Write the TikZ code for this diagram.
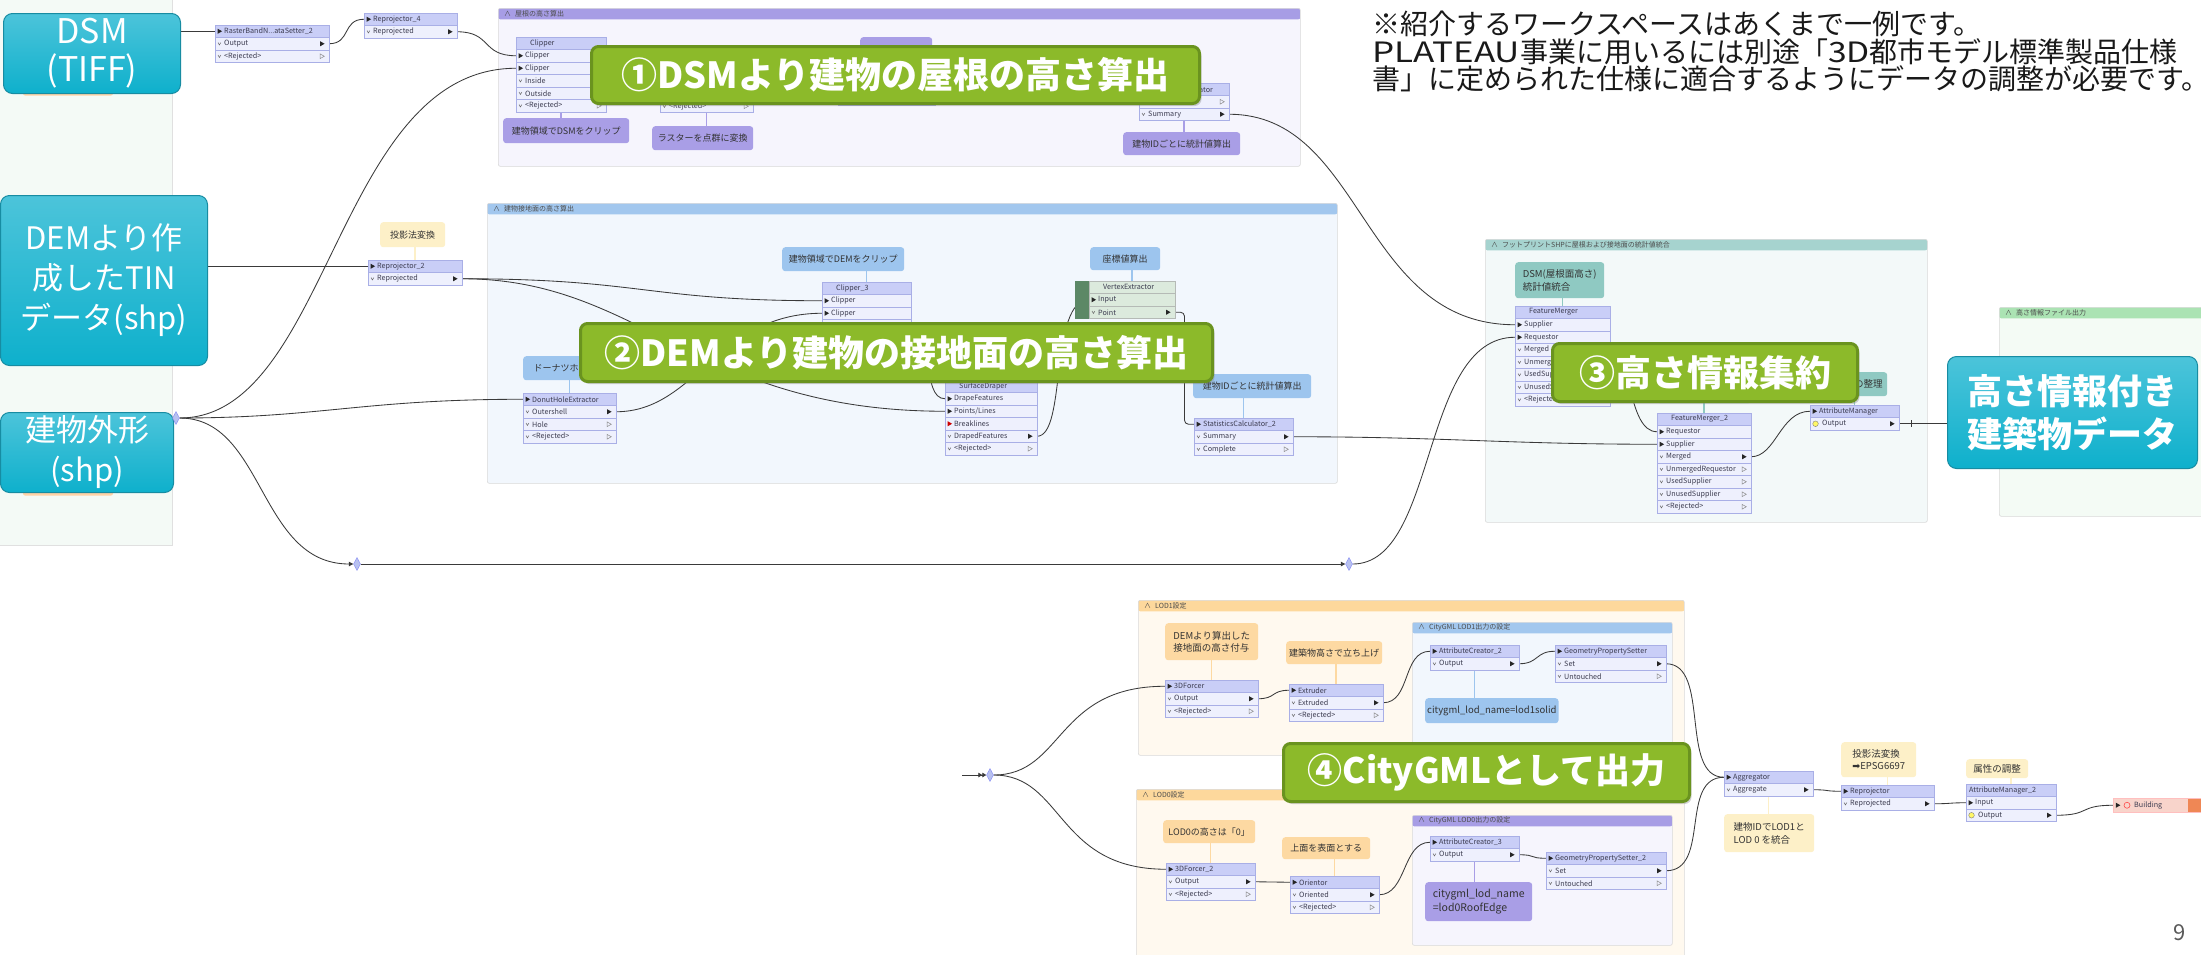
\documentclass[tikz,border=0pt]{standalone}
\usepackage{fontspec}
\setmainfont{Noto Sans CJK JP}
\newfontfamily\dejavu{DejaVu Sans}
\usetikzlibrary{calc,shapes.geometric,arrows.meta,shadows}

\definecolor{connc}{HTML}{3A3A3A}
\definecolor{rowfill}{HTML}{EEF0FD}
\definecolor{titlefill}{HTML}{C9CEF7}
\definecolor{rowline}{HTML}{A9AFE6}
\definecolor{fmetext}{HTML}{3C3C50}
\definecolor{tealtop}{HTML}{4CC4DA}
\definecolor{tealbot}{HTML}{0EB0CC}
\definecolor{tealedge}{HTML}{178CA2}
\definecolor{lblfill}{HTML}{8CBA2A}
\definecolor{lbledge}{HTML}{6A931F}
\definecolor{panelfill}{HTML}{F4FAF6}
\definecolor{purplehdr}{HTML}{A79DE5}
\definecolor{purplebody}{HTML}{F6F5FD}
\definecolor{bluehdr}{HTML}{A2C7EE}
\definecolor{bluebody}{HTML}{F2F7FD}
\definecolor{tealhdr}{HTML}{A6D3CF}
\definecolor{tealbody}{HTML}{F3F9F9}
\definecolor{greenhdr}{HTML}{ABE3B3}
\definecolor{greenbody}{HTML}{F4FBF5}
\definecolor{orangehdr}{HTML}{FDD89C}
\definecolor{orangebody}{HTML}{FFF9EF}
\definecolor{annpurple}{HTML}{A99EE6}
\definecolor{annblue}{HTML}{9DC5EE}
\definecolor{annteal}{HTML}{8FC9C2}
\definecolor{annyellow}{HTML}{FDF0C8}
\definecolor{annorange}{HTML}{FDD9A2}
\definecolor{vegreen}{HTML}{DCEADD}
\definecolor{vestrip}{HTML}{5C8866}
\definecolor{writerfill}{HTML}{F8D4CB}
\definecolor{writerend}{HTML}{EF8755}
\definecolor{diamondfill}{HTML}{B8C1F0}

% port glyphs drawn inside transformer rows
\newcommand\fmePin[1][black!85]{\fill[#1] ([xshift=2.5pt]path picture bounding box.west) ++(0,-2.6) -- ++(4.6,2.6) -- ++(-4.6,2.6) -- cycle;}
\newcommand\fmePout{\fill[black!85] ([xshift=-9pt]path picture bounding box.east) ++(0,-2.6) -- ++(4.6,2.6) -- ++(-4.6,2.6) -- cycle;}
\newcommand\fmePoutx{\draw[black!45, line width=0.5pt] ([xshift=-9pt]path picture bounding box.east) ++(0,-2.4) -- ++(4.3,2.4) -- ++(-4.3,2.4) -- cycle;}
\newcommand\fmeChev{\draw[black!60, line width=0.5pt] ([xshift=3pt]path picture bounding box.west) ++(0,-1.2) -- ++(1.4,2.4) -- ++(1.4,-2.4);}
\newcommand\fmeIcon{\draw[black!50, fill=yellow!60, line width=0.4pt] ([xshift=5.5pt]path picture bounding box.west) circle (2.8pt);}

\tikzset{
  fmerow/.style={draw=rowline, line width=0.5pt, fill=rowfill, minimum height=12.5pt, inner sep=0pt, outer sep=0pt, anchor=north west},
  fmetxt/.style={font=\fontsize{7.2}{8}\selectfont, text=fmetext, inner sep=0pt, anchor=west},
  kt/.style={fill=titlefill},
  kti/.style={fill=titlefill, path picture={\fmePin}},
  ki/.style={path picture={\fmePin}},
  kr/.style={path picture={\fmePin[red!80!black]}},
  ko/.style={path picture={\fmeChev\fmePout}},
  kx/.style={path picture={\fmeChev\fmePoutx}},
  koc/.style={path picture={\fmeIcon\fmePout}},
  grpbox/.style={draw=black!15, line width=0.6pt, rounded corners=2pt, anchor=north west, inner sep=0pt},
  grptxt/.style={font=\fontsize{7}{8}\selectfont, text=black!70, anchor=west, inner sep=0pt},
  annbox/.style={rounded corners=3pt, anchor=north west, inner sep=2pt, font=\fontsize{9}{12}\selectfont, text=black!80, align=center},
  aline/.style={draw=#1, line width=1.2pt},
  conn/.style={draw=connc, line width=0.85pt},
  jtip/.style={-{Triangle[length=4.5pt,width=4.5pt]}},
  jdia/.style={diamond, fill=diamondfill, draw=diamondfill!70!blue, line width=0.4pt, minimum width=7pt, minimum height=13pt, inner sep=0pt},
  bigbox/.style={rounded corners=9pt, top color=tealtop, bottom color=tealbot, draw=tealedge, line width=1pt, text=white, align=center, anchor=north west, inner sep=0pt},
  lbl/.style={fill=lblfill, draw=lbledge, line width=3pt, rounded corners=7pt, text=white, font=\fontsize{36}{40}\selectfont\bfseries, anchor=north west, inner sep=0pt, drop shadow={shadow xshift=2pt, shadow yshift=-2.5pt, opacity=0.35}},
  note/.style={anchor=west, font=\fontsize{28}{30}\selectfont, text=black!90, inner sep=0pt},
  writer/.style={fill=writerfill, draw=red!25, line width=0.5pt, anchor=north west, inner sep=0pt, path picture={\fill[writerend] ([xshift=75pt]path picture bounding box.north west) rectangle (path picture bounding box.south east); \fmePin}},
}

% transformer: [extra row options]{name}{x}{y top}{width}{kind/text list}
\newcommand\fme[6][]{%
  \foreach \rk/\rt [count=\ri] in {#6}{%
    \node[fmerow, minimum width=#5pt, \rk, #1] (#2-\ri) at (#3, {#4+(\ri-1)*12.5}) {};
    \node[fmetxt] at ([xshift=9pt]#2-\ri.west) {\rt};
  }%
}
% bookmark: {name}{x1}{y1}{x2}{y2}{colour prefix}{title}
\newcommand\grp[7]{%
  \node[grpbox, fill=#6body, minimum width={(#4-#2)*1pt}, minimum height={(#5-#3)*1pt},
    path picture={\fill[#6hdr] (path picture bounding box.north west) rectangle ([yshift=-11pt]path picture bounding box.north east);}] (#1) at (#2,#3) {};
  \node[grptxt] at (#2+6, #3+5.5) {∧\hspace{4pt}#7};
}
% annotation: [options]{name}{x}{y}{w}{h}{colour}{text}
\newcommand\ann[8][]{%
  \node[annbox, fill=#7, minimum width=#5pt, minimum height=#6pt, #1] (#2) at (#3,#4) {#8};
}

\pgfdeclarelayer{back}
\pgfdeclarelayer{mid}
\pgfsetlayers{back,mid,main}

\begin{document}
\begin{tikzpicture}[x=1pt, y=-1pt]
\useasboundingbox (0,0) rectangle (2201,954);
\clip (0,0) rectangle (2201,954);

\begin{pgfonlayer}{back}
  \fill[white] (0,0) rectangle (2201,954);
  \fill[panelfill] (0,0) rectangle (172,545);
  \draw[black!12, line width=0.8pt] (0,545) -| (172,0);
  \grp{g1}{498}{8}{1300}{166}{purple}{屋根の高さ算出}
  \grp{g2}{487}{203}{1337}{483}{blue}{建物接地面の高さ算出}
  \grp{g3}{1485}{239}{1927}{522}{teal}{フットプリントSHPに屋根および接地面の統計値統合}
  \grp{g4}{1999}{307}{2230}{516}{green}{高さ情報ファイル出力}
  \grp{lod1}{1138}{600}{1684}{755}{orange}{LOD1設定}
  \grp{cg1}{1412}{622}{1672}{748}{blue}{CityGML LOD1出力の設定}
  \grp{lod0}{1136}{789}{1684}{975}{orange}{LOD0設定}
  \grp{cg0}{1412}{815}{1672}{945}{purple}{CityGML LOD0出力の設定}
  \fill[orange!35, rounded corners=2pt] (23,86) rectangle (113,95.5);
  \fill[orange!35, rounded corners=2pt] (23,486) rectangle (113,495.5);
\end{pgfonlayer}

% source datasets
\node[bigbox, minimum width=177pt, minimum height=80pt, font=\fontsize{34}{38}\selectfont] (dsm) at (3,13) {DSM\\(TIFF)};
\node[bigbox, minimum width=207pt, minimum height=170pt, font=\fontsize{31}{40}\selectfont] (dem) at (0,195) {DEMより作\\成したTIN\\データ(shp)};
\node[bigbox, minimum width=173pt, minimum height=80pt, font=\fontsize{31}{40}\selectfont] (bldg) at (0,412) {建物外形\\(shp)};

% junctions
\node[jdia] (jb) at (176,418) {};
\node[jdia] (j1) at (357,564) {};
\node[jdia] (j2) at (1349,564) {};
\node[jdia] (j0) at (990,775) {};
\coordinate (j0in) at (962,775);

% roof height chain
\fme{rb}{215}{25}{114}{kti/RasterBandN.{}.{}.ataSetter\_2, ko/Output, kx/<Rejected>}
\fme{rp4}{364}{13}{93}{kti/Reprojector\_4, ko/Reprojected}
\fme{clip}{516}{37}{90}{kt/\hspace*{5pt}Clipper, ki/Clipper, ki/Clipper, ko/Inside, ko/Outside, kx/<Rejected>}
\fme{nb}{660}{50}{93}{kt/{}, ki/{}, ko/{}, ko/{}, kx/<Rejected>}
\fme{nc}{838}{68}{97}{kt/{}, ko/{}, kx/{}}
\fme{stc}{1139}{83}{90}{kti/StatisticsCalculator, kx/Complete, ko/Summary}
\ann{a1}{503}{118}{126}{25}{annpurple}{建物領域でDSMをクリップ}
\ann{a2}{652}{126}{101}{24}{annpurple}{ラスターを点群に変換}
\ann{a3}{860}{37}{72}{26}{annpurple}{}
\ann{a4}{1123}{132}{117}{23}{annpurple}{建物IDごとに統計値算出}

% ground height chain
\fme{rp2}{368}{260}{94}{kti/Reprojector\_2, ko/Reprojected}
\fme{clip3}{822}{282}{89}{kt/\hspace*{5pt}Clipper\_3, ki/Clipper, ki/Clipper, ko/Inside, ko/Outside, kx/<Rejected>}
\fme{dhe}{523}{393}{93}{kti/DonutHoleExtractor, ko/Outershell, kx/Hole, kx/<Rejected>}
\fme{sd}{945}{380}{92}{kt/\hspace*{5pt}SurfaceDraper, ki/DrapeFeatures, ki/Points\slash Lines, kr/Breaklines, ko/DrapedFeatures, kx/<Rejected>}
\node[fill=vestrip, minimum width=14pt, minimum height=37.5pt, anchor=north west, inner sep=0pt] (vestr) at (1075,281) {};
\fme[fill=vegreen, draw=vegreen!60!black!60]{ve}{1089}{281}{86}{kt/\hspace*{5pt}VertexExtractor, ki/Input, ko/Point}
\fme{stc2}{1194}{418}{99}{kti/StatisticsCalculator\_2, ko/Summary, kx/Complete}
\ann{b0}{380}{222}{65}{25}{annyellow}{投影法変換}
\ann{b1}{782}{247}{122}{24}{annblue}{建物領域でDEMをクリップ}
\ann{b2}{523}{356}{102}{24}{annblue}{ドーナツホール抽出}
\ann{b3}{1090}{247}{70}{23}{annblue}{座標値算出}
\ann{b4}{1193}{374}{118}{24}{annblue}{建物IDごとに統計値算出}

% merging
\fme{fm}{1515}{306}{95}{kt/\hspace*{5pt}FeatureMerger, ki/Supplier, ki/Requestor, ko/Merged, kx/UnmergedRequestor, kx/UsedSupplier, kx/UnusedSupplier, kx/<Rejected>}
\fme{fm2}{1657}{413}{94}{kt/\hspace*{5pt}FeatureMerger\_2, ki/Requestor, ki/Supplier, ko/Merged, kx/UnmergedRequestor, kx/UsedSupplier, kx/UnusedSupplier, kx/<Rejected>}
\fme{am}{1810}{405}{89}{kti/AttributeManager, koc/\hspace*{3pt}Output}
\ann[align=left, font=\fontsize{9.5}{12.5}\selectfont]{c1}{1515}{262}{89}{36}{annteal}{DSM(屋根面高さ)\\統計値統合}
\ann{c2}{1657}{383}{94}{20}{annteal}{}
\ann[text width=98pt, align=right, font=\fontsize{9.5}{12}\selectfont]{c3}{1780}{372}{107}{24}{annteal}{属性の整理}
\node[bigbox, minimum width=250pt, minimum height=112pt, font=\fontsize{35}{43}\selectfont\bfseries] (hbox) at (1947,356) {高さ情報付き\\建築物データ};

% CityGML output
\fme{f3d}{1165}{680}{93}{kti/3DForcer, ko/Output, kx/<Rejected>}
\fme{ext}{1289}{684}{94}{kti/Extruder, ko/Extruded, kx/<Rejected>}
\fme{ac2}{1430}{645}{89}{kti/AttributeCreator\_2, ko/Output}
\fme{gps}{1555}{645}{111}{kti/GeometryPropertySetter, ko/Set, kx/Untouched}
\fme{f3db}{1166}{863}{89}{kti/3DForcer\_2, ko/Output, kx/<Rejected>}
\fme{ori}{1290}{876}{89}{kti/Orientor, ko/Oriented, kx/<Rejected>}
\fme{ac3}{1430}{836}{89}{kti/AttributeCreator\_3, ko/Output}
\fme{gpsb}{1546}{852}{120}{kti/GeometryPropertySetter\_2, ko/Set, kx/Untouched}
\fme{agg}{1724}{771}{89}{kti/Aggregator, ko/Aggregate}
\fme{rp}{1841}{785}{93}{kti/Reprojector, ko/Reprojected}
\fme{am2}{1966}{784}{90}{kt/\hspace*{-6pt}AttributeManager\_2, ki/Input, koc/\hspace*{3pt}Output}
\node[writer, minimum width=100pt, minimum height=14pt] (bld) at (2113,798) {};
\draw[red!70, line width=0.6pt] ([xshift=14pt]bld.west) circle (3pt);
\node[fmetxt] at ([xshift=21pt]bld.west) {Building};
\ann[align=left, font=\fontsize{9.5}{12.5}\selectfont]{d1}{1165}{623}{93}{37}{annorange}{DEMより算出した\\接地面の高さ付与}
\ann[font=\fontsize{9}{11}\selectfont]{d2}{1286}{641}{96}{23}{annorange}{建築物高さで立ち上げ}
\ann[font=\fontsize{9.5}{11}\selectfont]{d3}{1425}{698}{132}{25}{annblue}{citygml\_lod\_name=lod1solid}
\ann[font=\fontsize{9}{11}\selectfont]{e1}{1163}{820}{92}{23}{annorange}{LOD0の高さは「0」}
\ann[font=\fontsize{9}{11}\selectfont]{e2}{1282}{837}{88}{22}{annorange}{上面を表面とする}
\ann[align=left, font=\fontsize{10.5}{14}\selectfont]{e3}{1425}{882}{107}{39}{annpurple}{citygml\_lod\_name\\=lod0RoofEdge}
\ann[align=left, font=\fontsize{9.5}{12.5}\selectfont]{f1}{1724}{814}{90}{38}{annyellow}{建物IDでLOD1と\\LOD 0 を統合}
\ann[align=left, font=\fontsize{9.5}{12.5}\selectfont]{f2}{1841}{742}{75}{35}{annyellow}{投影法変換\\{\dejavu ➡}EPSG6697}
\ann[font=\fontsize{9.5}{11}\selectfont]{f3}{1966}{759}{62}{19}{annyellow}{属性の調整}

% connectors
\begin{pgfonlayer}{mid}
  \draw[aline=annpurple] (clip-6.south) -- (clip-6.south |- a1.north);
  \draw[aline=annpurple] (nb-5.south) -- (nb-5.south |- a2.north);
  \draw[aline=annpurple] (nc-1.north) -- (nc-1.north |- a3.south);
  \draw[aline=annpurple] (stc-3.south) -- (stc-3.south |- a4.north);
  \draw[aline=annyellow] (rp2-1.north) -- (rp2-1.north |- b0.south);
  \draw[aline=annblue] (clip3-1.north) -- (clip3-1.north |- b1.south);
  \draw[aline=annblue] (dhe-1.north) -- (dhe-1.north |- b2.south);
  \draw[aline=annblue] (ve-1.north) -- (ve-1.north |- b3.south);
  \draw[aline=annblue] (stc2-1.north) -- (stc2-1.north |- b4.south);
  \draw[aline=annteal] (fm-1.north) -- (fm-1.north |- c1.south);
  \draw[aline=annteal] (fm2-1.north) -- (fm2-1.north |- c2.south);
  \draw[aline=annteal] (am-1.north) -- (am-1.north |- c3.south);
  \draw[aline=annorange] (f3d-1.north) -- (f3d-1.north |- d1.south);
  \draw[aline=annorange] (ext-1.north) -- (ext-1.north |- d2.south);
  \draw[aline=annblue] (ac2-2.south) -- (ac2-2.south |- d3.north);
  \draw[aline=annorange] (f3db-1.north) -- (f3db-1.north |- e1.south);
  \draw[aline=annorange] (ori-1.north) -- (ori-1.north |- e2.south);
  \draw[aline=annpurple] (ac3-2.south) -- (ac3-2.south |- e3.north);
  \draw[aline=annyellow] (agg-2.south) -- (agg-2.south |- f1.north);
  \draw[aline=annyellow] (rp-1.north) -- (rp-1.north |- f2.south);
  \draw[aline=annyellow] (am2-1.north) -- (am2-1.north |- f3.south);

  \draw[conn] (dsm.east |- rb-1.west) -- (rb-1.west);
  \draw[conn] (rb-2.east) .. controls +(22,0) and +(-22,0) .. (rp4-1.west);
  \draw[conn] (rp4-2.east) .. controls +(35,0) and +(-35,0) .. (clip-2.west);
  \draw[conn] (jb.east) .. controls +(150,0) and +(-180,0) .. (clip-3.west);
  \draw[conn] (jb.east) .. controls +(140,0) and +(-160,0) .. (dhe-1.west);
  \draw[conn, jtip] (jb.east) .. controls +(85,0) and +(-95,0) .. (j1.west);
  \draw[conn, jtip] (j1.east) -- (j2.west);
  \draw[conn] (j2.east) .. controls +(85,0) and +(-95,0) .. (fm-3.west);
  \draw[conn] (stc-3.east) .. controls +(135,0) and +(-155,0) .. (fm-2.west);
  \draw[conn] (dem.east |- rp2-1.west) -- (rp2-1.west);
  \draw[conn] (rp2-2.east) .. controls +(180,0) and +(-175,0) .. (clip3-2.west);
  \draw[conn] (rp2-2.east) .. controls +(180,0) and +(-250,0) .. (sd-3.west);
  \draw[conn] (dhe-2.east) .. controls +(80,0) and +(-105,0) .. (clip3-3.west);
  \draw[conn] (clip3-4.east) .. controls +(25,0) and +(-25,0) .. (sd-2.west);
  \draw[conn] (sd-5.east) .. controls +(30,0) and +(-40,0) .. (ve-2.west);
  \draw[conn, rounded corners=4pt] (ve-3.east) -| ($(ve-3.east)!0.5!(stc2-1.west)$) |- (stc2-1.west);
  \draw[conn] (stc2-2.east) .. controls +(150,0) and +(-150,0) .. (fm2-3.west);
  \draw[conn] (fm-4.east) .. controls +(22,0) and +(-30,0) .. (fm2-2.west);
  \draw[conn] (fm2-4.east) .. controls +(25,0) and +(-30,0) .. (am-1.west);
  \draw[conn] (am-2.east) -- (hbox.west |- am-2.east);
  \draw[conn] ([xshift=12pt]am-2.east) ++(0,-3.5) -- ++(0,7);

  \draw[conn, -{Triangle[length=4pt,width=4.5pt]Triangle[length=4pt,width=4.5pt]}] (j0in) -- (j0.west);
  \draw[conn] (j0.east) .. controls +(70,0) and +(-110,0) .. (f3d-1.west);
  \draw[conn] (j0.east) .. controls +(70,0) and +(-110,0) .. (f3db-1.west);
  \draw[conn] (f3d-2.east) .. controls +(18,0) and +(-18,0) .. (ext-1.west);
  \draw[conn] (ext-2.east) .. controls +(28,0) and +(-28,0) .. (ac2-1.west);
  \draw[conn] (ac2-2.east) .. controls +(20,0) and +(-20,0) .. (gps-1.west);
  \draw[conn] (gps-2.east) .. controls +(45,0) and +(-45,0) .. (agg-1.west);
  \draw[conn] (f3db-2.east) .. controls +(18,0) and +(-18,0) .. (ori-1.west);
  \draw[conn] (ori-2.east) .. controls +(28,0) and +(-28,0) .. (ac3-1.west);
  \draw[conn] (ac3-2.east) .. controls +(18,0) and +(-18,0) .. (gpsb-1.west);
  \draw[conn] (gpsb-2.east) .. controls +(45,0) and +(-45,0) .. (agg-1.west);
  \draw[conn] (agg-2.east) .. controls +(18,0) and +(-18,0) .. (rp-1.west);
  \draw[conn] (rp-2.east) .. controls +(18,0) and +(-18,0) .. (am2-2.west);
  \draw[conn] (am2-3.east) .. controls +(35,0) and +(-35,0) .. (bld.west);
\end{pgfonlayer}

% step labels
\node[lbl, minimum width=608pt, minimum height=57pt] (L1) at (590,45) {①DSMより建物の屋根の高さ算出};
\node[lbl, minimum width=632pt, minimum height=58pt] (L2) at (579,322) {②DEMより建物の接地面の高さ算出};
\node[lbl, minimum width=305pt, minimum height=58pt] (L3) at (1551,342) {③高さ情報集約};
\node[lbl, minimum width=406pt, minimum height=58pt, font=\fontsize{35}{40}\selectfont\bfseries] (L4) at (1282,742) {④CityGMLとして出力};

% remarks
\node[note] (t1) at (1372,24) {※紹介するワークスペースはあくまで一例です。};
\node[note] (t2) at (1372,52) {\scalebox{1.25}[1]{PLATEAU}事業に用いるには別途「\scalebox{1.2}[1]{3D}都市モデル標準製品仕様};
\node[note] (t3) at (1372,79) {書」に定められた仕様に適合するようにデータの調整が必要です。};
\node[font=\fontsize{22}{24}\selectfont, text=black!65, inner sep=0pt] (pg) at (2180,933) {9};
\end{tikzpicture}
\end{document}
